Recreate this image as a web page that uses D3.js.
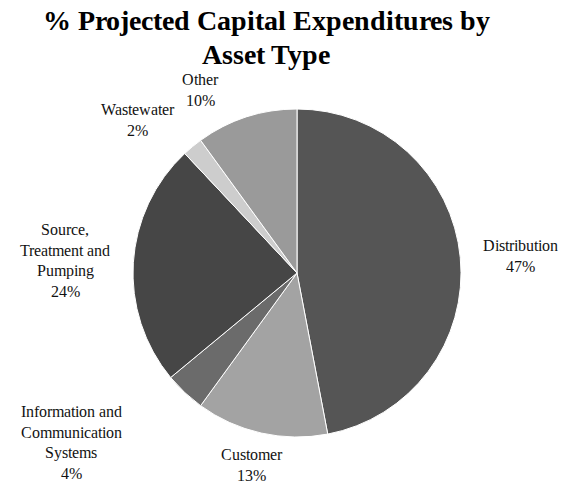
<!DOCTYPE html>
<html>
<head>
<meta charset="utf-8">
<script src="https://cdn.jsdelivr.net/npm/d3@7"></script>
<style>
  @font-face { font-family: "ChartSerif"; src: local("Liberation Serif"), local("LiberationSerif"); font-weight: normal; }
  @font-face { font-family: "ChartSerif"; src: local("Liberation Serif Bold"), local("LiberationSerif-Bold"); font-weight: bold; }
</style>
</head>
<body style="margin:0;background:#fff">
<svg id="chart" width="566" height="485" style="display:block"></svg>
<script>
// Asset types, in clockwise order from 12 o'clock
const categories = ["Distribution", "Customer", "Information and Communication Systems",
                    "Source, Treatment and Pumping", "Wastewater", "Other"];
// Share of projected capital expenditures (%)
const shares = [47, 13, 4, 24, 2, 10];
// Label text lines (category name wrapped as displayed)
const labelLines = [
  ["Distribution"],
  ["Customer"],
  ["Information and", "Communication", "Systems"],
  ["Source,", "Treatment and", "Pumping"],
  ["Wastewater"],
  ["Other"]
];
const sliceColors = ["#555555", "#a3a3a3", "#6b6b6b", "#464646", "#cdcdcd", "#9a9a9a"];

const titleLines = ["% Projected Capital Expenditures by", "Asset Type"];

const FONT = "ChartSerif, 'Liberation Serif', 'Times New Roman', serif";
const svg = d3.select("#chart");
const cx = 297, cy = 273, radius = 164;

// Title: one text element per line
svg.append("g")
  .selectAll("text")
  .data(titleLines)
  .join("text")
  .style("font-family", FONT)
  .style("font-size", "28px")
  .style("font-weight", "bold")
  .attr("fill", "#000")
  .attr("text-anchor", "middle")
  .attr("x", 266)
  .attr("y", (d, i) => 30 + i * 33.5)
  .text(d => d);

const pie = d3.pie().sort(null).value(d => d)
  .startAngle(0).endAngle(2 * Math.PI);
const arcs = pie(shares);
const arc = d3.arc().innerRadius(0).outerRadius(radius);

const g = svg.append("g").attr("transform", `translate(${cx},${cy})`);
g.selectAll("path")
  .data(arcs)
  .join("path")
  .attr("d", arc)
  .attr("fill", (d, i) => sliceColors[i])
  .attr("stroke", "#ffffff")
  .attr("stroke-width", 1);

// Data label placement (outside end), relative to pie centre: [dx, dy of first baseline]
const labelAnchor = [
  [223, -22],
  [-46, 187],
  [-226, 144],
  [-232, -38],
  [-160, -158],
  [-97, -188]
];

// Each data label: category lines followed by the percentage
const labelRows = arcs.flatMap((d, i) =>
  labelLines[i].concat([d.data + "%"]).map((line, j) => ({ i, j, line }))
);

svg.append("g")
  .selectAll("text")
  .data(labelRows)
  .join("text")
  .style("font-family", FONT)
  .style("font-size", "16px")
  .attr("fill", "#111")
  .attr("text-anchor", "middle")
  .attr("x", r => cx + labelAnchor[r.i][0])
  .attr("y", r => cy + labelAnchor[r.i][1] + r.j * 20.5)
  .text(r => r.line);
</script>
</body>
</html>
